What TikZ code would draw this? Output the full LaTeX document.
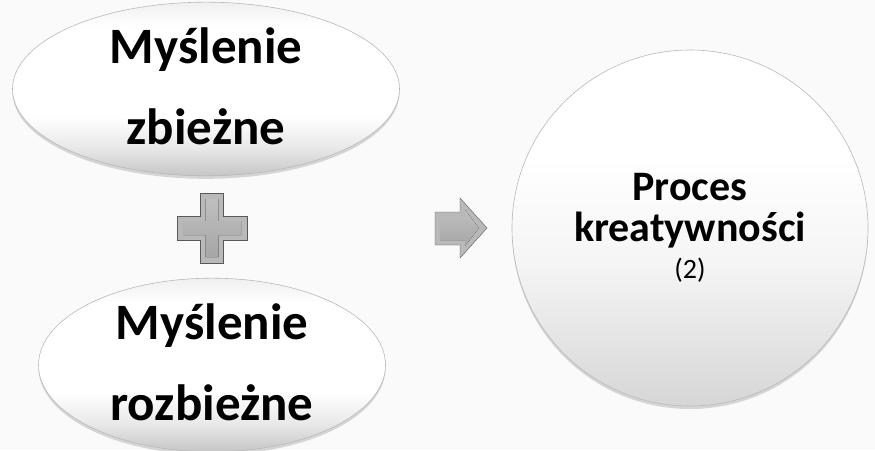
\documentclass[tikz,border=0pt]{standalone}
\usepackage{fontspec}
\setmainfont{Carlito}
\usetikzlibrary{shapes.geometric,shadows,positioning}

\pgfdeclareverticalshading{glossy}{100bp}{color(0bp)=(gray!45); color(25bp)=(gray!45);
  color(33bp)=(gray!18); color(42bp)=(white); color(68bp)=(white); color(75bp)=(gray!12); color(100bp)=(gray!12)}
\pgfdeclareverticalshading{globe}{100bp}{color(0bp)=(gray!32); color(25bp)=(gray!32);
  color(45bp)=(gray!8); color(60bp)=(white); color(75bp)=(white); color(100bp)=(white)}

\tikzset{
  thinking/.style={draw=gray!55, line width=0.6pt, shape=ellipse, inner sep=0pt, shading=glossy,
    drop shadow={opacity=0.3, shadow xshift=0pt, shadow yshift=-3pt},
    align=center, text depth=6pt, font=\fontsize{51}{81}\selectfont\bfseries},
  result/.style={draw=gray!55, line width=0.6pt, shape=circle, inner sep=0pt,
    minimum size=356pt, shading=globe,
    drop shadow={opacity=0.3, shadow xshift=0pt, shadow yshift=-3pt},
    align=center, font=\fontsize{42}{41}\selectfont\bfseries},
  bevel/.style={fill=gray!55, draw=gray!70!black, line width=0.4pt},
  face/.style={top color=gray!50, bottom color=gray!70, draw=none}
}

\begin{document}
\begin{tikzpicture}[x=1pt,y=-1pt]
\useasboundingbox (0,0) rectangle (875,450);
\fill[gray!4] (0,0) rectangle (875,450);

\node[thinking, minimum width=387pt, minimum height=162pt] (conv) at (206,89) {Myślenie\\zbieżne};
\node[thinking, minimum width=347pt, minimum height=150pt] (div) at (212,365) {Myślenie\\rozbieżne};
\node[result] (proc) at (690,228) {Proces\\kreatywności\\[-4pt]{\fontsize{28}{30}\selectfont\mdseries(2)}};

% plus sign
\draw[bevel] (200.5,193) -- (223.5,193) -- (223.5,216) -- (247,216) -- (247,240) -- (223.5,240)
  -- (223.5,263) -- (200.5,263) -- (200.5,240) -- (177,240) -- (177,216) -- (200.5,216) -- cycle;
\fill[face] (205.5,199) -- (218.5,199) -- (218.5,221) -- (241,221) -- (241,235) -- (218.5,235)
  -- (218.5,257) -- (205.5,257) -- (205.5,235) -- (183,235) -- (183,221) -- (205.5,221) -- cycle;

% arrow
\draw[bevel] (435,212) -- (460,212) -- (460,198) -- (487,228) -- (460,258) -- (460,245) -- (435,245) -- cycle;
\fill[face] (440,217) -- (465,217) -- (465,210) -- (479,228) -- (465,246) -- (465,240) -- (440,240) -- cycle;
\end{tikzpicture}
\end{document}
